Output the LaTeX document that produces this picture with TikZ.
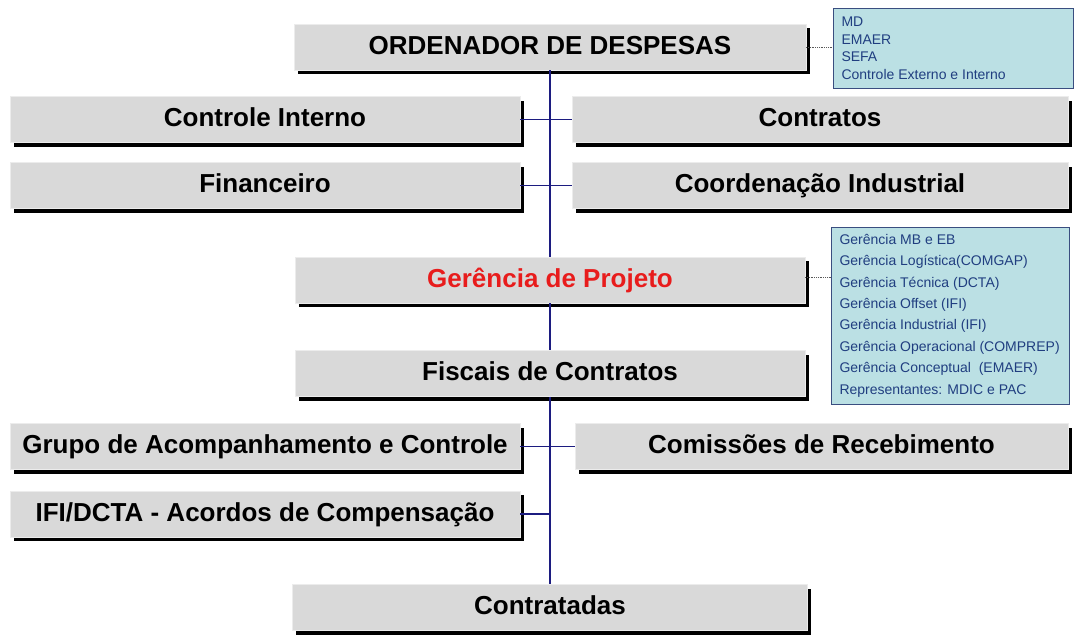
\documentclass[tikz,border=0pt]{standalone}
\usepackage{fontspec}
\setmainfont{Liberation Sans}
\usetikzlibrary{shadows}

\definecolor{boxgray}{RGB}{217,217,217}
\definecolor{trunkblue}{RGB}{28,28,128}
\definecolor{infofill}{RGB}{187,224,228}
\definecolor{infoline}{RGB}{58,78,128}
\definecolor{infotext}{RGB}{32,62,128}
\definecolor{titlered}{RGB}{232,28,28}

\begin{document}
\begin{tikzpicture}[x=1pt, y=-1pt]
    % Setup the styles for the boxes
    \tikzset{org box/.style={rectangle,
                             fill=boxgray,
                             draw=white!85!gray,
                             line width=.4pt,
                             inner sep=0pt,
                             minimum height=46pt,
                             text height=19pt,
                             text depth=5pt,
                             font=\bfseries\fontsize{26}{30}\selectfont,
                             drop shadow={shadow xshift=3.5pt, shadow yshift=-4pt,
                                          fill=black, opacity=1}},
             info box/.style={rectangle,
                              fill=infofill,
                              draw=infoline,
                              line width=1pt,
                              inner xsep=8pt,
                              inner ysep=0pt,
                              align=flush left,
                              text=infotext,
                              anchor=west},
             trunk/.style={trunkblue, line width=1.6pt},
             side line/.style={trunkblue, line width=1.3pt},
             note line/.style={gray!70!black, densely dotted, line width=.8pt}}

    \useasboundingbox (0,0) rectangle (1075,635);

    % Draw the boxes
    \node[org box, minimum width=512pt] at (550, 47)    (ordenador)   {ORDENADOR DE DESPESAS};
    \node[org box, minimum width=510pt] at (265, 119.5) (ctrlinterno) {Controle Interno};
    \node[org box, minimum width=496pt] at (820, 119.5) (contratos)   {Contratos};
    \node[org box, minimum width=510pt] at (265, 185.5) (financeiro)  {Financeiro};
    \node[org box, minimum width=496pt] at (820, 185.5) (coordind)    {Coordenação Industrial};
    \node[org box, minimum width=510pt, text=titlered]
                                        at (550, 280)   (gerencia)    {Gerência de Projeto};
    \node[org box, minimum width=510pt] at (550, 373.5) (fiscais)     {Fiscais de Contratos};
    \node[org box, minimum width=510pt] at (265, 446.5) (grupo)       {Grupo de Acompanhamento e Controle};
    \node[org box, minimum width=493pt] at (821.5, 446.5) (comissoes) {Comissões de Recebimento};
    \node[org box, minimum width=510pt] at (265, 514)   (ifi)         {IFI/DCTA - Acordos de Compensação};
    \node[org box, minimum width=515pt] at (550, 607.5) (contratadas) {Contratadas};

    % Draw the side notes
    \node[info box, text width=224pt, minimum height=80pt,
          font=\fontsize{14}{17.5}\selectfont] at (833, 48) (orgaos)
        {MD\\EMAER\\SEFA\\Controle Externo e Interno};
    \node[info box, text width=222pt, minimum height=177pt,
          font=\fontsize{14}{21.4}\selectfont] at (831, 315.5) (gerencias)
        {Gerência MB e EB\\
         Gerência Logística(COMGAP)\\
         Gerência Técnica (DCTA)\\
         Gerência Offset (IFI)\\
         Gerência Industrial (IFI)\\
         Gerência Operacional (COMPREP)\\
         Gerência Conceptual\ \ (EMAER)\\
         Representantes: MDIC e PAC};

    % Connect the boxes
    \draw[trunk]
        (ordenador)   edge (gerencia)
        (gerencia)    edge (fiscais)
        (fiscais)     edge (contratadas);
    \draw[side line]
        (ctrlinterno) edge (contratos)
        (financeiro)  edge (coordind)
        (grupo)       edge (comissoes)
        (ifi.east)    edge (ifi.east -| fiscais.south);
    \draw[note line]
        (ordenador.east) edge (ordenador.east -| orgaos.west)
        ([yshift=3pt]gerencia.east) edge ([yshift=3pt]gerencia.east -| gerencias.west);
\end{tikzpicture}
\end{document}
